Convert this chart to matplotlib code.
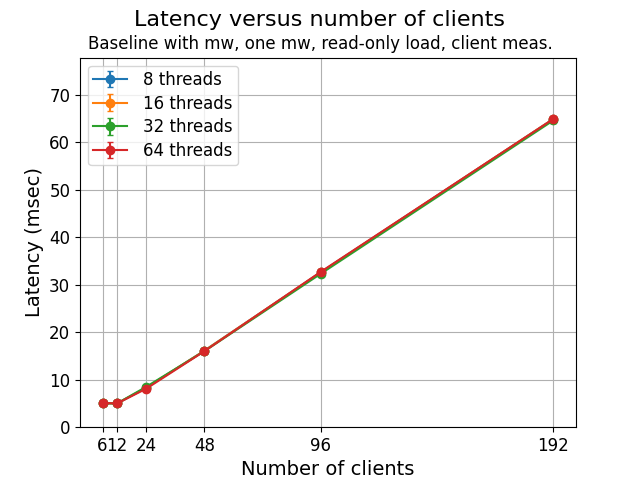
import matplotlib
matplotlib.use("Agg")
import matplotlib.pyplot as plt

clients = [6, 12, 24, 48, 96, 192]
lat8 = [5.1, 5.0, 8.3, 16.1, 32.6, 64.9]
lat16 = [5.1, 5.0, 8.3, 16.1, 32.6, 64.9]
lat32 = [5.0, 5.0, 8.5, 16.0, 32.3, 64.6]
lat64 = [5.1, 5.0, 8.1, 16.0, 32.7, 64.9]
err8 = [0.2, 0.2, 0.2, 0.3, 0.4, 0.5]
err16 = [0.2, 0.2, 0.2, 0.3, 0.4, 0.5]
err32 = [0.2, 0.2, 0.2, 0.3, 0.4, 0.5]
err64 = [0.2, 0.2, 0.2, 0.3, 0.4, 0.5]
labels = ["8 threads", "16 threads", "32 threads", "64 threads"]

fig, ax = plt.subplots(figsize=(6.4, 4.8), dpi=100)
for y, e, lab in zip([lat8, lat16, lat32, lat64], [err8, err16, err32, err64], labels):
    ax.errorbar(clients, y, yerr=e, marker="o", capsize=2, label=lab)

fig.suptitle("Latency versus number of clients", fontsize=16)
ax.set_title("Baseline with mw, one mw, read-only load, client meas.", fontsize=12, x=0.4839)
ax.set_xlabel("Number of clients", fontsize=14)
ax.set_ylabel("Latency (msec)", fontsize=14)
ax.set_xticks(clients)
ax.tick_params(labelsize=12)
ax.set_ylim(0, 77.8)
ax.grid(True)
ax.legend(fontsize=12, loc="upper left", labelspacing=0.34, borderpad=0.3,
          handletextpad=1.0)
fig.savefig("out.png", dpi=100)
